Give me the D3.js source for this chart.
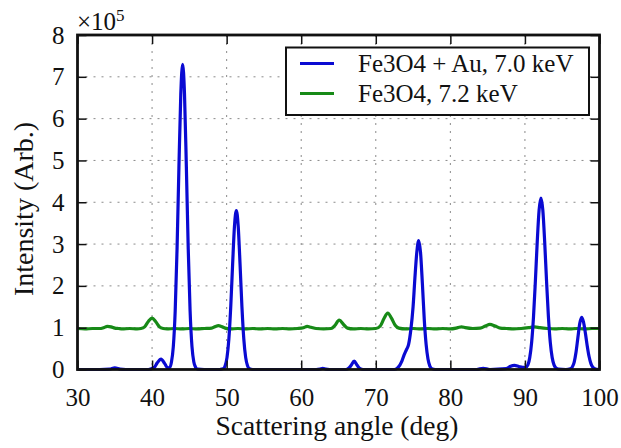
<!DOCTYPE html>
<html>
<head>
<meta charset="utf-8">
<script src="https://cdn.jsdelivr.net/npm/d3@7"></script>
</head>
<body style="margin:0">
<svg id="chart" width="621" height="448"></svg>
<script>
// ---- Data (intensity in units of 1e5) ----
const xTicks = [30, 40, 50, 60, 70, 80, 90, 100];
const yTicks = [0, 1, 2, 3, 4, 5, 6, 7, 8];
const seriesNames = ["Fe3O4 + Au, 7.0 keV", "Fe3O4, 7.2 keV"];

const blueAngle = [30, 33, 34.3, 35, 35.7, 36.5, 39.5, 40.3, 40.7, 41.2, 41.7, 42.1, 42.35, 42.6, 42.85, 43.1, 43.35, 43.6, 43.85, 44.1, 44.35, 44.6, 44.85, 45.1, 45.35, 45.6, 45.85, 46.1, 47, 49,
  49.3, 49.55, 49.8, 50.05, 50.3, 50.55, 50.8, 51.05, 51.3, 51.55, 51.8, 52.05, 52.3, 52.55, 52.8, 53.05, 53.5,
  62, 62.5, 62.9, 63.3, 63.8, 66, 66.3, 66.7, 67.1, 67.5, 67.9, 68.3,
  72.5, 73, 73.5, 73.8, 74.1, 74.4, 74.7, 75, 75.25, 75.5, 75.75, 76, 76.25, 76.5, 76.75, 77, 77.25, 77.5, 78,
  83.5, 84.4, 85.3, 87.5, 88, 88.6, 89.2, 89.7, 90.15, 90.4, 90.65, 90.9, 91.15, 91.4, 91.65, 91.9, 92.15, 92.4, 92.65, 92.9, 93.15, 93.4, 93.65, 93.9, 94.15, 94.5, 95.5,
  96.1, 96.35, 96.6, 96.85, 97.1, 97.35, 97.6, 97.85, 98.1, 98.35, 98.6, 98.85, 99.1, 99.35, 99.6, 100];
const blueIntensity = [0, 0, 0.01, 0.04, 0.01, 0, 0, 0.05, 0.16, 0.25, 0.14, 0.04, 0.05, 0.18, 0.55, 1.40, 2.88, 4.83, 6.58, 7.3, 6.58, 4.83, 2.88, 1.40, 0.55, 0.18, 0.05, 0.01, 0, 0,
  0.01, 0.02, 0.09, 0.29, 0.73, 1.50, 2.51, 3.43, 3.8, 3.43, 2.51, 1.50, 0.73, 0.29, 0.09, 0.02, 0,
  0, 0.01, 0.03, 0.01, 0, 0, 0.02, 0.1, 0.2, 0.1, 0.02, 0,
  0, 0.05, 0.2, 0.35, 0.47, 0.6, 0.95, 1.5, 2.2, 2.8, 3.08, 2.8, 2.05, 1.2, 0.6, 0.25, 0.08, 0.02, 0,
  0, 0.03, 0, 0.02, 0.07, 0.1, 0.07, 0.05, 0.06, 0.11, 0.29, 0.65, 1.26, 2.11, 3.05, 3.81, 4.1, 3.81, 3.05, 2.11, 1.26, 0.65, 0.29, 0.11, 0.04, 0.01, 0,
  0.02, 0.06, 0.17, 0.41, 0.76, 1.10, 1.25, 1.14, 0.88, 0.57, 0.31, 0.14, 0.055, 0.018, 0.005, 0];

const greenAngle = [30, 31, 32, 33, 33.5, 34, 34.5, 35, 35.5, 36, 37, 38, 38.5, 39, 39.5, 40, 40.5, 41, 41.5, 42, 43, 44, 45, 46, 47, 48, 48.5, 48.9, 49.3, 49.8,
  50.5, 51.5, 52.5, 53.5, 54.5, 55.5, 56.5, 57.5, 58.5, 59.5, 60.3, 60.8, 61.3, 62, 63, 64, 64.5, 65.1, 65.7, 66.2, 67, 68, 69, 70,
  70.6, 71.1, 71.6, 72.1, 72.6, 73.1, 74, 75, 76, 77, 78, 79, 80, 81, 81.5, 82, 83, 84, 84.7, 85.3, 86, 86.7, 87.5, 88.5, 89.5,
  90.5, 91.3, 92, 93, 94, 95, 96, 97, 98, 99, 100];
const greenIntensity = [0.98, 0.97, 0.98, 0.98, 1.0, 1.03, 1.02, 0.99, 0.98, 0.97, 0.98, 0.97, 0.98, 1.02, 1.15, 1.23, 1.14, 1.02, 0.98, 0.97, 0.98, 0.97, 0.98, 0.97, 0.98, 0.99, 1.03, 1.05, 1.03, 0.99,
  0.97, 0.98, 0.97, 0.98, 0.97, 0.98, 0.97, 0.98, 0.97, 0.98, 1.0, 1.03, 1.01, 0.98, 0.97, 0.98, 1.05, 1.18, 1.07, 0.99, 0.97, 0.98, 0.97, 0.98,
  1.04, 1.22, 1.35, 1.23, 1.06, 0.99, 0.97, 0.98, 0.97, 0.98, 0.97, 0.98, 0.97, 1.0, 1.02, 1.0, 0.98, 0.99, 1.04, 1.08, 1.04, 0.99, 0.98, 0.97, 0.98,
  1.0, 1.02, 1.0, 0.98, 0.97, 0.98, 0.97, 0.98, 0.97, 0.98, 0.98];

const colors = ["#0a0ad2", "#178a17"];
const FONT = "Liberation Serif";

function serif(sel) {
  return sel.attr("font-family", FONT).style("font-family", "'" + FONT + "'");
}

// ---- Layout ----
const svg = d3.select("#chart");
const L = 77.5, R = 599.5, T = 35, B = 369.5;
const x = d3.scaleLinear().domain([30, 100]).range([L, R]);
const y = d3.scaleLinear().domain([0, 8]).range([B, T]);

// grid
const grid = svg.append("g").attr("stroke", "#8a8a8a").attr("stroke-width", 1).attr("stroke-dasharray", "2,6");
grid.selectAll(".gx").data(xTicks.slice(1, -1)).join("line")
  .attr("x1", d => x(d)).attr("x2", d => x(d)).attr("y1", T).attr("y2", B);
grid.selectAll(".gy").data(yTicks.slice(1, -1)).join("line")
  .attr("y1", d => y(d)).attr("y2", d => y(d)).attr("x1", L).attr("x2", R);

// curves
const line = d3.line().x(d => x(d[0])).y(d => y(d[1])).curve(d3.curveMonotoneX);
const series = [d3.zip(blueAngle, blueIntensity), d3.zip(greenAngle, greenIntensity)];
[1, 0].forEach(i => {
  svg.append("path").datum(series[i]).attr("d", line)
    .attr("fill", "none").attr("stroke", colors[i]).attr("stroke-width", 3.2)
    .attr("stroke-linejoin", "round");
});

// axes with inward ticks (all four sides)
const tickLen = 9;
const axB = d3.axisBottom(x).tickValues(xTicks).tickSize(-tickLen).tickPadding(tickLen + 10).tickFormat(d3.format("d"));
const axT = d3.axisTop(x).tickValues(xTicks).tickSize(-tickLen).tickFormat("");
const axL = d3.axisLeft(y).tickValues(yTicks).tickSize(-tickLen).tickPadding(tickLen + 4).tickFormat(d3.format("d"));
const axR = d3.axisRight(y).tickValues(yTicks).tickSize(-tickLen).tickFormat("");

function styleAxis(g) {
  serif(g);
  g.select(".domain").remove();
  g.selectAll(".tick line").attr("stroke", "#111").attr("stroke-width", 1.5);
  serif(g.selectAll(".tick text")).attr("font-size", 25).attr("fill", "#111");
}
svg.append("g").attr("transform", `translate(0,${B})`).call(axB).call(styleAxis);
svg.append("g").attr("transform", `translate(0,${T})`).call(axT).call(styleAxis);
svg.append("g").attr("transform", `translate(${L},0)`).call(axL).call(styleAxis);
svg.append("g").attr("transform", `translate(${R},0)`).call(axR).call(styleAxis);

// frame (white margin masks below the axis keep line caps tidy)
svg.append("rect").attr("x", L).attr("y", T).attr("width", R - L).attr("height", B - T)
  .attr("fill", "none").attr("stroke", "#111").attr("stroke-width", 2.8);

// exponent label
const ex = serif(svg.append("text")).attr("x", 77).attr("y", 30).attr("font-size", 25).attr("fill", "#111");
ex.append("tspan").text("×10");
ex.append("tspan").attr("font-size", 17).attr("dy", -9).text("5");

// axis labels
serif(svg.append("text")).attr("x", 337).attr("y", 435).attr("text-anchor", "middle")
  .attr("fill", "#111").attr("font-size", 27.5).text("Scattering angle (deg)");
serif(svg.append("text")).attr("transform", "translate(33,209) rotate(-90)").attr("text-anchor", "middle")
  .attr("fill", "#111").attr("font-size", 28).text("Intensity (Arb.)");

// legend
const lg = svg.append("g");
lg.append("rect").attr("x", 286).attr("y", 47.5).attr("width", 303).attr("height", 67.5)
  .attr("fill", "#fff").attr("stroke", "#111").attr("stroke-width", 2);
seriesNames.forEach((name, i) => {
  const ly = 63.5 + i * 30;
  lg.append("line").attr("x1", 300).attr("x2", 334).attr("y1", ly).attr("y2", ly)
    .attr("stroke", colors[i]).attr("stroke-width", 2.8);
  serif(lg.append("text")).attr("x", 358).attr("y", ly + 8).attr("font-size", 25)
    .attr("fill", "#111").text(name);
});
</script>
</body>
</html>
